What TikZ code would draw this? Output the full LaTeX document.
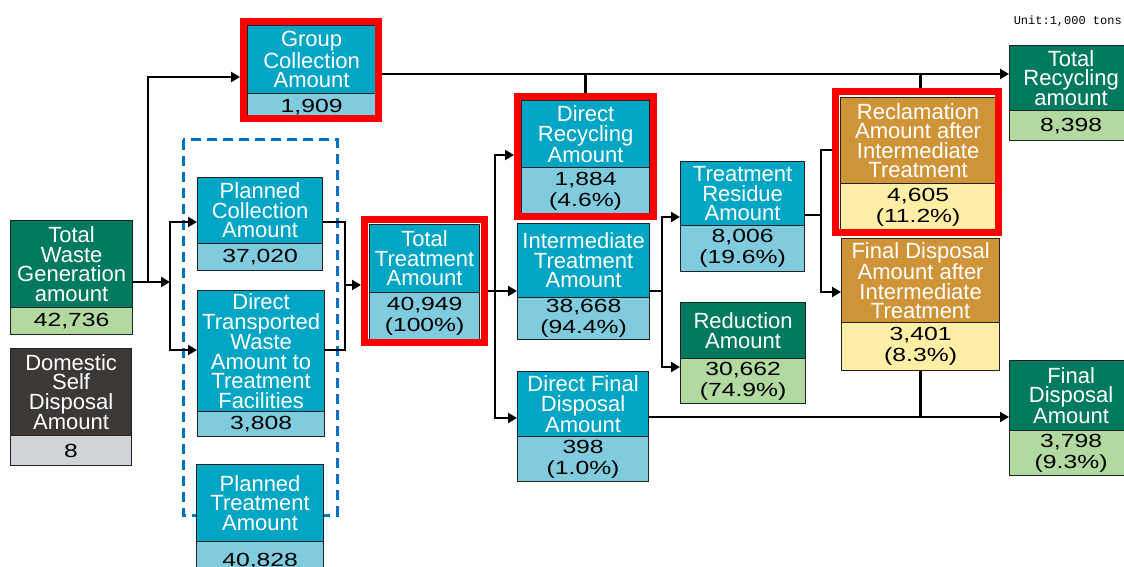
\documentclass[tikz,border=0pt]{standalone}
\usepackage{fontspec}
\setmainfont{Liberation Sans}
\newfontfamily\valfont[FakeStretch=1.3]{Liberation Sans}
\newfontfamily\unitfont{Liberation Mono}
\usetikzlibrary{arrows.meta}
\definecolor{cteal}{RGB}{0,166,196}
\definecolor{clteal}{RGB}{128,204,222}
\definecolor{cdgreen}{RGB}{0,122,94}
\definecolor{clgreen}{RGB}{178,217,160}
\definecolor{cbrown}{RGB}{207,148,56}
\definecolor{clyellow}{RGB}{255,238,166}
\definecolor{cdgray}{RGB}{59,56,54}
\definecolor{clgray}{RGB}{208,212,216}
\definecolor{cblue}{RGB}{0,112,192}
\definecolor{cborder}{RGB}{34,34,34}
\tikzset{
  ttl/.style={draw=cborder, line width=1.2pt, inner sep=0pt, align=center, text=white,
    font={\fontsize{22}{19.5}\selectfont}},
  vl/.style={draw=cborder, line width=1.2pt, inner sep=0pt, align=center, text=black,
    font={\valfont\fontsize{19}{21}\selectfont}},
  topT/.style={fill=cteal}, valT/.style={fill=clteal},
  topG/.style={fill=cdgreen}, valG/.style={fill=clgreen},
  topB/.style={fill=cbrown}, valB/.style={fill=clyellow},
  topK/.style={fill=cdgray}, valK/.style={fill=clgray},
  conn/.style={line width=2.4pt, black},
  arr/.style={conn, -{Triangle[length=9pt,width=10pt]}},
  redframe/.style={draw=red, line width=7pt, inner sep=0pt, anchor=center},
  dashframe/.style={draw=cblue, line width=3pt, dash pattern=on 10pt off 6pt}
}
\newcommand\mkbox[9]{%
  \node[ttl, top#7, anchor=north west, minimum width={(#5-#2)*1pt}, minimum height={(#4-#3)*1pt}] (#1) at (#2,#3) {#8};
  \node[vl, val#7, anchor=north west, minimum width={(#5-#2)*1pt}, minimum height={(#6-#4)*1pt}] (#1-v) at (#2,#4) {#9};
}
\begin{document}
\begin{tikzpicture}[x=1pt,y=-1pt]
\useasboundingbox (0,0) rectangle (1124,567);
\fill[white] (0,0) rectangle (1124,567);
% dashed group frame
\draw[dashframe] (183,140) rectangle (337,515);
% boxes
\mkbox{twg}{10}{220}{307}{132}{334}{G}{Total\\Waste\\Generation\\amount}{42,736}
\mkbox{dsd}{10}{348}{435}{131}{465}{K}{Domestic\\Self\\Disposal\\Amount}{8}
\mkbox{gc}{247}{25}{93}{375}{119}{T}{Group\\Collection\\Amount}{1,909}
\mkbox{pc}{197}{177}{243}{322}{270}{T}{Planned\\Collection\\Amount}{37,020}
\mkbox{dt}{197}{290}{411}{324}{436}{T}{Direct\\Transported\\Waste\\Amount to\\Treatment\\Facilities}{3,808}
\mkbox{pt}{196}{464}{541}{323}{580}{T}{Planned\\Treatment\\Amount}{40,828}
\mkbox{tt}{369}{224}{292}{479}{340}{T}{Total\\Treatment\\Amount}{40,949\\(100\%)}
\mkbox{dr}{521}{100}{167}{649}{214}{T}{Direct\\Recycling\\Amount}{1,884\\(4.6\%)}
\mkbox{it}{517}{223}{297}{649}{339}{T}{Intermediate\\Treatment\\Amount}{38,668\\(94.4\%)}
\mkbox{df}{517}{371}{436}{648}{481}{T}{Direct Final\\Disposal\\Amount}{398\\(1.0\%)}
\mkbox{tr}{680}{161}{225}{804}{271}{T}{Treatment\\Residue\\Amount}{8,006\\(19.6\%)}
\mkbox{rd}{680}{302}{358}{805}{403}{G}{Reduction\\Amount}{30,662\\(74.9\%)}
\mkbox{rc}{840}{97}{183}{995}{230}{B}{Reclamation\\Amount after\\Intermediate\\Treatment}{4,605\\(11.2\%)}
\mkbox{fd2}{841}{238}{322}{999}{370}{B}{Final Disposal\\Amount after\\Intermediate\\Treatment}{3,401\\(8.3\%)}
\mkbox{trc}{1009}{45}{110}{1132}{140}{G}{Total\\Recycling\\amount}{8,398}
\mkbox{fd}{1009}{360}{430}{1132}{475}{G}{Final\\Disposal\\Amount}{3,798\\(9.3\%)}
% red frames (named, used as connector ends)
\node[redframe, minimum width=135pt, minimum height=97pt] (gcf) at (311,70) {};
\node[redframe, minimum width=120pt, minimum height=123pt] (ttf) at (424.5,281) {};
\node[redframe, minimum width=136pt, minimum height=120pt] (drf) at (585.5,156.5) {};
\node[redframe, minimum width=163pt, minimum height=141pt] (rcf) at (917,162) {};
% connectors
\coordinate (j1) at (148,282);
\coordinate (j2) at (170,282);
\draw[conn] (twg.east |- j1) -- (j1);
\draw[arr] (j1) -- (j2);
\draw[arr] (j1) |- (gcf.west |- 0,77);
\draw[arr] (j2) |- (pc.west |- 0,222);
\draw[arr] (j2) |- (dt.west |- 0,350);
\coordinate (j3) at (345,285);
\draw[conn] (pc.east |- 0,222) -| (j3);
\draw[conn] (dt.east |- 0,350) -| (j3);
\draw[arr] (j3) -- (ttf.west |- j3);
\coordinate (j4) at (495,291);
\draw[arr] (ttf.east |- j4) -- (it.west |- j4);
\draw[arr] (j4) |- (drf.west |- 0,155);
\draw[arr] (j4) |- (df.west |- 0,418);
\coordinate (j5) at (662,291);
\draw[conn] (it.east |- j5) -- (j5);
\draw[arr] (j5) |- (tr.west |- 0,217);
\draw[arr] (j5) |- (rd.west |- 0,367);
\coordinate (j6) at (821,215);
\draw[conn] (tr.east |- j6) -- (j6);
\draw[conn] (j6) |- (rcf.west |- 0,150);
\draw[arr] (j6) |- (fd2.west |- 0,292);
\draw[arr] (gcf.east |- 0,74) -- (trc.west |- 0,74);
\draw[conn] (drf.north) -- (drf.north |- 0,74);
\draw[conn] (rcf.north -| fd2.north) -- (fd2.north |- 0,74);
\draw[conn] (fd2-v.south) -- (fd2-v.south |- 0,417);
\draw[arr] (df.east |- 0,417) -- (fd.west |- 0,417);
% red frames on top
\node[redframe, minimum width=135pt, minimum height=97pt] at (311,70) {};
\node[redframe, minimum width=120pt, minimum height=123pt] at (424.5,281) {};
\node[redframe, minimum width=136pt, minimum height=120pt] at (585.5,156.5) {};
\node[redframe, minimum width=163pt, minimum height=141pt] at (917,162) {};
% unit label
\node[font={\unitfont\fontsize{12}{14}\selectfont}, anchor=east, inner sep=0pt] (unit) at (1122,21) {Unit:1,000 tons};
\end{tikzpicture}
\end{document}
